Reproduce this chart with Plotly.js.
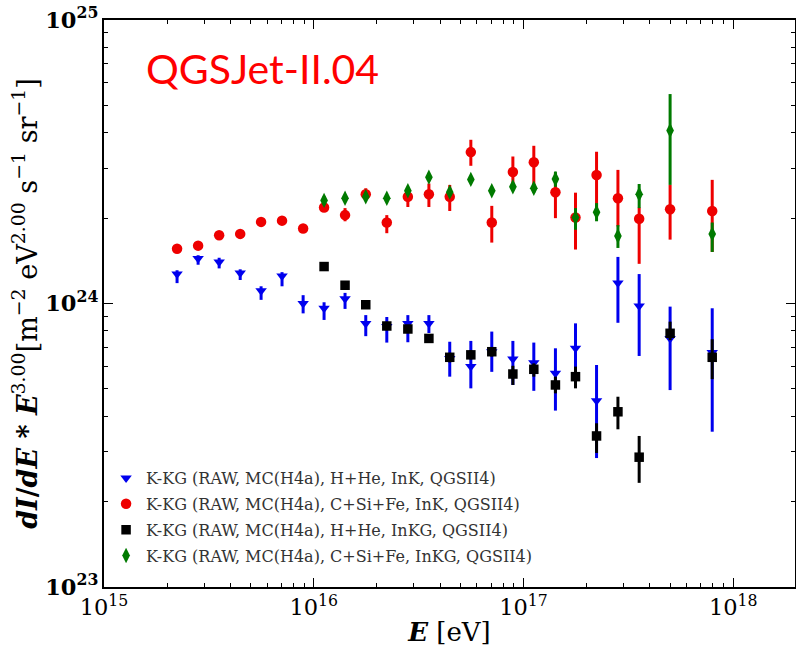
<!DOCTYPE html>
<html>
<head>
<meta charset="utf-8">
<script src="https://cdn.plot.ly/plotly-3.0.1.min.js"></script>
<style>html,body{margin:0;padding:0;background:#fff;}#chart{width:796px;height:653px;}</style>
</head>
<body>
<div id="chart"></div>
<script>
// Energies (eV)
const energyFull = [2.23e15, 2.81e15, 3.54e15, 4.46e15, 5.61e15, 7.06e15, 8.9e15,
  1.12e16, 1.41e16, 1.77e16, 2.23e16, 2.81e16, 3.54e16, 4.45e16, 5.61e16, 7.06e16, 8.9e16,
  1.12e17, 1.42e17, 1.77e17, 2.23e17, 2.82e17, 3.56e17, 5.0e17, 7.94e17];
const energyHigh = [1.12e16, 1.41e16, 1.77e16, 2.23e16, 2.81e16, 3.54e16, 4.45e16, 5.61e16, 7.06e16, 8.9e16,
  1.12e17, 1.42e17, 1.77e17, 2.23e17, 2.82e17, 3.56e17, 5.0e17, 7.94e17];

// Flux * E^3 in units of 1e24
const blueY  = [1.27, 1.44, 1.40, 1.28, 1.11, 1.25, 1.00, 0.962, 1.04, 0.85, 0.83, 0.85, 0.85, 0.64, 0.60, 0.676, 0.637, 0.618, 0.567, 0.695, 0.454, 1.18, 0.98, 0.753, 0.671];
const blueHi = [1.31, 1.48, 1.45, 1.32, 1.15, 1.29, 1.07, 1.01, 1.09, 0.91, 0.896, 0.91, 0.91, 0.733, 0.738, 0.796, 0.738, 0.728, 0.695, 0.851, 0.607, 1.46, 1.27, 0.975, 0.962];
const blueLo = [1.18, 1.37, 1.33, 1.21, 1.03, 1.15, 0.923, 0.875, 0.957, 0.767, 0.728, 0.73, 0.787, 0.552, 0.502, 0.574, 0.516, 0.492, 0.419, 0.516, 0.285, 0.855, 0.653, 0.495, 0.353];

const redY  = [1.56, 1.60, 1.74, 1.76, 1.94, 1.96, 1.84, 2.18, 2.05, 2.43, 1.93, 2.38, 2.43, 2.38, 3.42, 1.93, 2.91, 3.15, 2.47, 2.01, 2.84, 2.35, 1.99, 2.15, 2.12];
const redHi = [1.59, 1.63, 1.78, 1.80, 1.98, 2.00, 1.89, 2.24, 2.17, 2.55, 2.05, 2.48, 2.65, 2.62, 3.78, 2.21, 3.30, 3.60, 2.88, 2.46, 3.43, 2.96, 2.18, 2.62, 2.73];
const redLo = [1.53, 1.57, 1.70, 1.72, 1.90, 1.92, 1.79, 2.12, 1.95, 2.32, 1.77, 2.19, 2.19, 2.12, 3.06, 1.64, 2.58, 2.58, 2.00, 1.55, 2.11, 1.87, 1.38, 1.68, 1.52];

const blackY  = [1.35, 1.16, 0.99, 0.833, 0.813, 0.753, 0.646, 0.659, 0.676, 0.564, 0.586, 0.516, 0.552, 0.341, 0.415, 0.287, 0.785, 0.646];
const blackHi = [1.37, 1.18, 1.005, 0.86, 0.84, 0.775, 0.67, 0.685, 0.70, 0.603, 0.615, 0.552, 0.599, 0.378, 0.469, 0.341, 0.863, 0.748];
const blackLo = [1.33, 1.14, 0.975, 0.81, 0.79, 0.735, 0.62, 0.635, 0.65, 0.516, 0.552, 0.482, 0.502, 0.297, 0.36, 0.233, 0.743, 0.541];

const greenY  = [2.31, 2.35, 2.38, 2.35, 2.50, 2.79, 2.47, 2.74, 2.50, 2.58, 2.55, 2.75, 2.01, 2.10, 1.73, 2.43, 4.08, 1.76];
const greenHi = [2.39, 2.40, 2.44, 2.40, 2.58, 2.86, 2.54, 2.81, 2.56, 2.66, 2.64, 2.92, 2.17, 2.26, 1.89, 2.64, 5.48, 1.93];
const greenLo = [2.23, 2.30, 2.32, 2.30, 2.42, 2.72, 2.40, 2.67, 2.44, 2.50, 2.46, 2.58, 1.82, 1.95, 1.57, 2.17, 2.62, 1.52];

const seriesNames = [
  'K-KG (RAW, MC(H4a), H+He, InK, QGSII4)',
  'K-KG (RAW, MC(H4a), C+Si+Fe, InK, QGSII4)',
  'K-KG (RAW, MC(H4a), H+He, InKG, QGSII4)',
  'K-KG (RAW, MC(H4a), C+Si+Fe, InKG, QGSII4)'
];
const UNIT = 1e24;

function mk(x, y, hi, lo, name, color, symbol, size, grp) {
  const yy = y.map(v => v * UNIT);
  return {
    x: x, y: yy, name: name, mode: 'markers', type: 'scatter', legendgroup: grp,
    marker: {color: color, symbol: symbol, size: size, line: {width: 0}},
    error_y: {type: 'data', symmetric: false,
      array: hi.map((v, i) => v * UNIT - yy[i]),
      arrayminus: lo.map((v, i) => yy[i] - v * UNIT),
      color: color, thickness: 3, width: 0}
  };
}

const traces = [
  mk(energyFull, blueY, blueHi, blueLo, seriesNames[0], '#0000ee', 'triangle-down', 10, 'a'),
  mk(energyFull, redY, redHi, redLo, seriesNames[1], '#ee0000', 'circle', 10.5, 'b'),
  mk(energyHigh, blackY, blackHi, blackLo, seriesNames[2], '#000000', 'square', 9.5, 'c'),
  mk(energyHigh, greenY, greenHi, greenLo, seriesNames[3], '#007a00', 'diamond-tall', 11, 'd')
];

const serif = 'DejaVu Serif, Liberation Serif, serif';
const axisCommon = {
  type: 'log', showgrid: false, zeroline: false,
  showline: true, linecolor: '#000', linewidth: 2, mirror: 'ticks',
  ticks: 'inside', ticklen: 9, tickwidth: 1, tickcolor: '#000',
  dtick: 1, exponentformat: 'power',
  minor: {ticks: 'inside', ticklen: 4, tickcolor: '#000', dtick: 'D1'}
};

const layout = {
  width: 796, height: 653,
  margin: {l: 104, r: 1, t: 20, b: 66},
  paper_bgcolor: '#fff', plot_bgcolor: '#fff',
  showlegend: true,
  legend: {x: 0.003, y: 0.222, xanchor: 'left', yanchor: 'top', bgcolor: 'rgba(0,0,0,0)',
    font: {family: serif, size: 16, color: '#333'}, traceorder: 'grouped', tracegroupgap: 2},
  xaxis: Object.assign({}, axisCommon, {
    range: [15, Math.log10(1.97e18)],
    tickfont: {family: serif, size: 18, color: '#000'},
    title: {text: '<b><i>E</i></b> [eV]', font: {family: serif, size: 26, color: '#000'}, standoff: 4}
  }),
  yaxis: Object.assign({}, axisCommon, {
    range: [23, 25],
    tickfont: {family: serif, size: 18, color: '#000', weight: 'bold'},
    title: {text: '<b><i>dI</i>/<i>dE</i> * <i>E</i></b><sup>3.00</sup>[m<sup>−2</sup> eV<sup>2.00</sup> s<sup>−1</sup> sr<sup>−1</sup>]',
      font: {family: serif, size: 27, color: '#000'}, standoff: 0}
  }),
  annotations: [{
    xref: 'paper', yref: 'paper', x: 0.058, y: 0.915, xanchor: 'left', yanchor: 'middle',
    text: 'QGSJet-II.04', showarrow: false,
    font: {family: 'Lato, sans-serif', size: 41, color: '#ff0000'}
  }]
};

Plotly.newPlot('chart', traces, layout, {displayModeBar: false, staticPlot: true});
</script>
</body>
</html>
